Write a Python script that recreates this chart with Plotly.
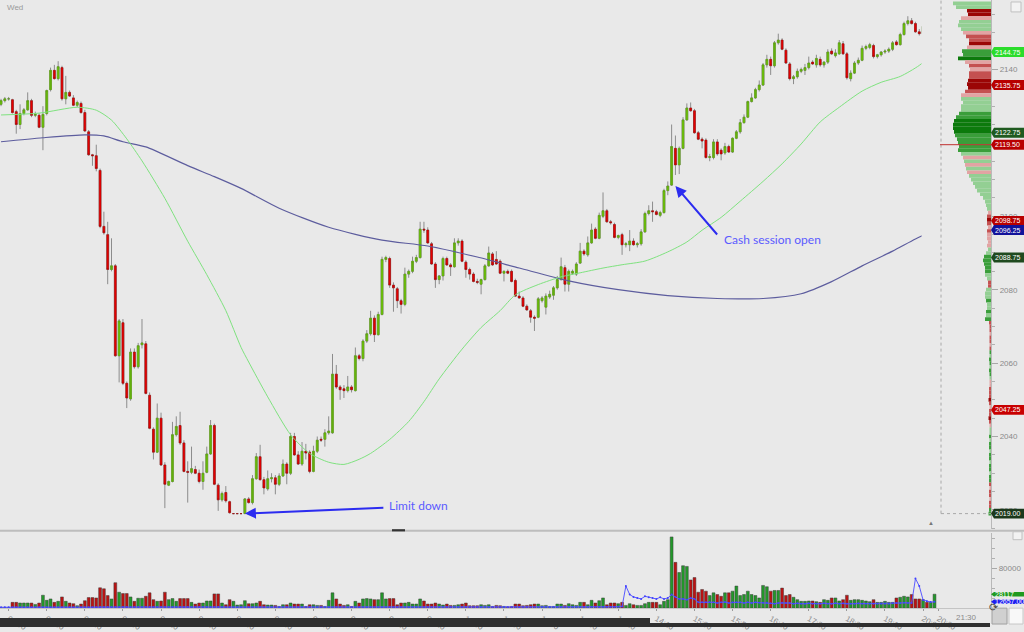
import pandas as pd
import plotly.graph_objects as go

# ---- data -------------------------------------------------------------
session_start = "2016-11-08 23:50"   # first 5-minute bar

opens = [
    2130.5, 2131.5, 2132, 2131.75, 2128.5, 2125, 2128, 2129, 2131.5, 2127.5,
    2127.5, 2124.25, 2128, 2134.5, 2139.75, 2137.5, 2140.5, 2132, 2133.75, 2132.25,
    2130.25, 2130.75, 2128.25, 2123, 2116.75, 2116.5, 2112.5, 2097.25, 2095, 2085.5,
    2086.5, 2062, 2071, 2054.5, 2050.25, 2063, 2059, 2065, 2065.25, 2051.25,
    2042, 2035.75, 2045, 2032.25, 2026.75, 2027.75, 2040.5, 2043, 2038.25, 2030.5,
    2030.25, 2031, 2030, 2027.75, 2030.25, 2035.25, 2043, 2026.75, 2022.75, 2024.75,
    2022.25, 2019, 2019, 2019, 2019, 2023, 2022, 2028.5, 2034.5, 2028.25,
    2025.75, 2028.5, 2028.75, 2027, 2029.25, 2032.5, 2030, 2040, 2035, 2032.5,
    2036, 2035.75, 2030.5, 2036, 2039.25, 2039.25, 2041, 2041, 2057, 2053.5,
    2053, 2052.5, 2053.5, 2052.5, 2062, 2061.25, 2066, 2068, 2072.25, 2067.75,
    2073.25, 2088.25, 2088.5, 2081.25, 2080.25, 2077, 2076, 2084.25, 2085, 2087.75,
    2088.75, 2096.5, 2096.25, 2092.5, 2087, 2082.75, 2083.75, 2088.5, 2086.75, 2086.25,
    2092.75, 2093.25, 2087.5, 2085.5, 2084.25, 2082.25, 2081.5, 2082.75, 2086.5, 2089.75,
    2088.25, 2087.75, 2084.5, 2085, 2085, 2082.5, 2078.25, 2077.75, 2075.5, 2074.25,
    2072.5, 2072.5, 2077, 2075.25, 2078, 2078.5, 2080.5, 2082.75, 2086, 2081.5,
    2084.5, 2084.25, 2087.25, 2090.5, 2089.5, 2092.75, 2096.5, 2094, 2100, 2101.5,
    2098.5, 2097.75, 2094.25, 2095, 2092.25, 2092.25, 2093.25, 2092.25, 2092.5, 2095.75,
    2100.75, 2101.5, 2101.25, 2100.25, 2101, 2107, 2108.5, 2118.5, 2114, 2118.5,
    2126.25, 2129.5, 2128.75, 2122.75, 2121, 2120.75, 2116, 2116, 2120.25, 2118,
    2117.25, 2119, 2117.5, 2121.25, 2123, 2125.5, 2127, 2131.25, 2132.25, 2134.5,
    2135.75, 2141.25, 2142.75, 2141, 2147.25, 2148, 2145.25, 2141.5, 2137.5, 2138,
    2139.5, 2139.75, 2140.5, 2142, 2141.25, 2142.75, 2141.25, 2142, 2145, 2143.75,
    2144.25, 2147, 2144.25, 2137.5, 2139, 2141.75, 2142.5, 2145.75, 2146, 2146.5,
    2143.5, 2144, 2144.75, 2145, 2145.5, 2147.5, 2146.75, 2149.5, 2152.5, 2153.25,
    2152.5, 2150.25, 2149.75, 2152, 2151.5, 2153,
]
highs = [
    2132, 2132.5, 2132.5, 2132, 2129, 2130.5, 2129.5, 2133.75, 2132, 2128.5,
    2128, 2130, 2134.5, 2140.5, 2141.25, 2142.25, 2141, 2138.25, 2134.25, 2133,
    2131.5, 2131.25, 2129, 2123.5, 2117, 2119.5, 2113, 2101.25, 2098.5, 2094,
    2087, 2072, 2072, 2055, 2064, 2064, 2065.5, 2072, 2066, 2052,
    2042.5, 2049, 2046.5, 2033, 2028, 2044, 2045.5, 2046.75, 2039, 2033.25,
    2037.25, 2032, 2031, 2033.25, 2037.25, 2044.5, 2043.5, 2027.25, 2025, 2026.5,
    2022.5, 2019, 2019, 2019, 2023.25, 2023.5, 2029.5, 2035.5, 2037.75, 2029,
    2030.75, 2030, 2029.5, 2030, 2033.75, 2033, 2041, 2041, 2036, 2038.5,
    2038, 2036.25, 2037.5, 2040, 2040, 2042, 2045.5, 2062.5, 2059.5, 2054,
    2054, 2056.5, 2054, 2064.25, 2062.5, 2066.5, 2069, 2074.25, 2073, 2074,
    2089, 2089.25, 2089, 2082, 2080.75, 2077.5, 2086, 2085.5, 2089, 2089.5,
    2098.5, 2098.5, 2097, 2093, 2087.5, 2084, 2089, 2089, 2087.25, 2094,
    2094, 2093.75, 2088, 2086, 2084.75, 2083, 2083, 2087, 2091.75, 2090.25,
    2090.5, 2088.25, 2085.25, 2085.5, 2085.5, 2083, 2079.5, 2078.25, 2076, 2074.75,
    2073, 2078, 2078.25, 2079, 2079.75, 2081, 2083.75, 2088.75, 2086.75, 2085.5,
    2085.5, 2087.5, 2092.75, 2091, 2094.5, 2098, 2097, 2101, 2106.5, 2102,
    2099, 2098.25, 2095, 2095.5, 2093, 2096.25, 2094, 2093, 2096.5, 2101.25,
    2103, 2104, 2101.75, 2101.5, 2107.5, 2109.5, 2125, 2122, 2119, 2127,
    2130.75, 2131, 2129.25, 2123.25, 2121.5, 2121.25, 2117, 2121, 2121, 2118.5,
    2120, 2119.5, 2121.5, 2123.5, 2126.5, 2127.75, 2131.5, 2133.5, 2135, 2137,
    2141.75, 2144, 2143.5, 2147.75, 2149.75, 2148.5, 2145.75, 2142, 2138.5, 2140.25,
    2140.5, 2141.5, 2143.5, 2142.5, 2144, 2143.5, 2142.25, 2145.5, 2145.75, 2145.5,
    2148, 2147.75, 2144.75, 2139.75, 2142.25, 2143.25, 2146.5, 2146.75, 2147.25, 2147,
    2144.25, 2145, 2145.5, 2146, 2147.75, 2148, 2150, 2153, 2154.5, 2154,
    2153, 2151, 2152.25, 2152.5, 2153.5, 2156,
]
lows = [
    2130, 2131, 2131.5, 2128, 2122.5, 2123.75, 2127.5, 2128.75, 2127, 2127,
    2124, 2118, 2127.5, 2134, 2137.25, 2137, 2131.5, 2130.5, 2132.5, 2130,
    2129.75, 2128, 2123, 2116.5, 2113.75, 2112.25, 2096.75, 2095, 2081.5, 2085,
    2061.75, 2054.75, 2054, 2047.75, 2049.75, 2058.5, 2058.5, 2064, 2051.5, 2042,
    2033.75, 2035.5, 2032, 2020.5, 2026.5, 2027.5, 2040, 2037.75, 2030.25, 2022,
    2029.75, 2029.75, 2027.25, 2025.5, 2030, 2035, 2026.75, 2019.75, 2022.25, 2022,
    2019, 2019, 2019, 2019, 2019, 2021.75, 2021.5, 2028.25, 2028, 2024.25,
    2025.25, 2027.5, 2024.25, 2026.5, 2029, 2027, 2029.5, 2034.75, 2032.25, 2032,
    2033.75, 2030, 2030.25, 2035.5, 2038.5, 2037.25, 2040.5, 2040.75, 2053, 2050,
    2050.5, 2052, 2052, 2052.25, 2060.75, 2060.5, 2065.5, 2067.5, 2065.75, 2067.5,
    2073, 2087.5, 2080.5, 2074, 2075, 2073.5, 2075.5, 2083.25, 2084.5, 2087.25,
    2088.5, 2095.5, 2092.5, 2086.75, 2080.5, 2081.5, 2082.5, 2086.5, 2083.75, 2086,
    2092, 2087.5, 2083.25, 2082.75, 2082, 2081.5, 2078.75, 2082.5, 2086.25, 2086.5,
    2086.75, 2084.25, 2082.25, 2084.25, 2082, 2078, 2077.5, 2075.25, 2074.25, 2071,
    2068.75, 2072.25, 2076.5, 2073.25, 2077.5, 2077.25, 2080, 2082.5, 2079.5, 2079.5,
    2084, 2083.75, 2087, 2089.25, 2089, 2092.5, 2093.75, 2093.75, 2099.5, 2098.25,
    2097.75, 2094, 2093.75, 2089.5, 2091.5, 2090.5, 2092, 2091.5, 2092, 2095.5,
    2100.25, 2098.5, 2100.25, 2099.75, 2100.75, 2105.75, 2108.25, 2111.25, 2111.5, 2118.25,
    2126, 2128.5, 2122.5, 2120.75, 2118.5, 2115.75, 2115, 2115.5, 2116.5, 2115.25,
    2116.75, 2117.25, 2117.25, 2121, 2122.5, 2125.25, 2126.75, 2131, 2132, 2134,
    2135.5, 2140.5, 2138.5, 2140.5, 2146.75, 2145.25, 2141.5, 2137, 2136, 2137.5,
    2139, 2138.5, 2140, 2141.25, 2140.5, 2140.75, 2140.5, 2141.5, 2144, 2143.25,
    2144, 2144, 2137.25, 2136.75, 2138.75, 2141.25, 2142.25, 2145.25, 2145.5, 2143,
    2143, 2143.5, 2144.25, 2144.5, 2145, 2146.5, 2146.5, 2149.25, 2152, 2152.25,
    2150, 2149.25, 2149.5, 2151.25, 2151.25, 2152.75,
]
closes = [
    2131.5, 2132, 2132, 2128.25, 2125, 2128, 2129, 2131.5, 2127.5, 2127.75,
    2124.25, 2127.75, 2134.25, 2139.75, 2137.5, 2140.75, 2132, 2133.75, 2132.75, 2130.25,
    2131, 2128.25, 2123.25, 2116.75, 2116.5, 2113, 2097.25, 2095.5, 2085.5, 2086.5,
    2062, 2071.5, 2054.5, 2050.5, 2063, 2059, 2064.75, 2065.5, 2051.75, 2042.25,
    2035.75, 2045, 2032.25, 2027, 2027.75, 2040.5, 2042.75, 2038.25, 2030.5, 2030.25,
    2031.25, 2030, 2027.75, 2030, 2035.25, 2043, 2027, 2022.75, 2024.5, 2022.5,
    2019.25, 2019, 2019, 2019, 2023, 2022, 2028.5, 2034.5, 2028.25, 2026,
    2028.5, 2028.75, 2027, 2029.25, 2032.5, 2030, 2040, 2035, 2032.5, 2036,
    2035.5, 2030.5, 2036, 2039, 2039, 2041, 2041.5, 2057, 2053.5, 2052.75,
    2052.5, 2053.5, 2052.75, 2062, 2061.25, 2066, 2068, 2072.25, 2067.75, 2073.25,
    2088.25, 2088.75, 2081.25, 2080.5, 2077, 2076, 2084.25, 2085, 2087.75, 2088.75,
    2096.5, 2096.25, 2092.75, 2087, 2082.75, 2083.75, 2088.5, 2086.75, 2086.25, 2092.75,
    2093.25, 2087.75, 2085.5, 2084.25, 2082.25, 2082, 2082.75, 2086.5, 2090, 2086.75,
    2087, 2084.5, 2085, 2084.5, 2082.25, 2078.25, 2077.75, 2075.5, 2074.5, 2072.5,
    2072.25, 2077.5, 2077.75, 2078.25, 2078.75, 2080.5, 2082.75, 2086.25, 2081.5, 2085,
    2085, 2087, 2090.5, 2089.75, 2092.75, 2096.25, 2094, 2100.25, 2101.5, 2098.5,
    2098.25, 2094.25, 2094.75, 2092.25, 2092.5, 2093.25, 2092.25, 2092.5, 2095.75, 2100.75,
    2101.5, 2101.25, 2100.5, 2101, 2107, 2108.25, 2119, 2114, 2118.5, 2126.25,
    2129.5, 2128.75, 2122.75, 2121, 2120.5, 2116, 2116.25, 2120.25, 2117, 2117,
    2119, 2117.5, 2121.25, 2123, 2125.5, 2127, 2131.25, 2132.25, 2134.5, 2135.75,
    2141.25, 2142.75, 2141, 2147.25, 2148, 2145.5, 2141.75, 2137.5, 2138, 2139.5,
    2140, 2140.5, 2141.75, 2141.5, 2143, 2141.25, 2142, 2144.75, 2144.25, 2144.5,
    2147.25, 2144.25, 2137.75, 2139, 2141.75, 2142.5, 2145.75, 2146.25, 2146.75, 2143.5,
    2144, 2144.75, 2145, 2145.5, 2147.25, 2146.75, 2149.5, 2152.5, 2153.25, 2152.5,
    2150.25, 2149.75, 2151.75, 2151.5, 2153, 2155.5,
]
# volume per bar, thousands of contracts
volume_k = [
    1.5, 1.5, 1.5, 11.6, 11.6, 10.3, 10.3, 10.3, 10.3, 7.5,
    10.3, 26, 15.7, 18.5, 11.6, 13.7, 22.6, 13.7, 10.3, 8.9,
    4.8, 8.2, 15, 21.2, 21.2, 20.5, 41, 39, 25.3, 18.5,
    51.3, 32.1, 29.4, 29.4, 22.6, 13.7, 19.9, 19.9, 23.9, 30.8,
    17.1, 13.7, 14.4, 32.1, 17.1, 19.2, 13.7, 19.2, 19.2, 19.2,
    11.6, 8.2, 10.3, 10.3, 14.4, 14.4, 28.7, 28.7, 10.3, 6.8,
    17.1, 13.7, 6.2, 6.8, 15, 8.9, 8.9, 10.3, 13.7, 6.8,
    6.2, 6.2, 5.5, 3.4, 6.8, 6.8, 10.3, 8.2, 8.2, 8.2,
    3.4, 6.8, 6.8, 5.5, 5.5, 3.4, 15.7, 30.8, 18.5, 8.2,
    5.5, 6.8, 3.4, 13.7, 10.3, 18.5, 19.2, 18.5, 17.1, 17.1,
    30.8, 18.5, 19.2, 19.2, 6.8, 10.3, 10.3, 11.6, 8.2, 8.2,
    18.5, 14.4, 8.2, 8.2, 10.3, 8.2, 6.2, 8.2, 5.5, 5.5,
    6.8, 8.2, 10.3, 4.8, 4.8, 4.8, 6.8, 5.5, 6.8, 3.4,
    5.5, 4.8, 3.4, 2.7, 3.4, 8.2, 8.2, 4.8, 5.5, 6.8,
    8.2, 8.2, 4.8, 5.5, 3.4, 3.4, 8.2, 8.2, 5.5, 8.9,
    6.8, 5.5, 11.6, 11.6, 6.8, 15.7, 10.3, 15, 20.5, 6.8,
    10.3, 10.3, 8.9, 11.6, 5.5, 8.9, 6.8, 5.5, 5.5, 8.9,
    11.6, 11.6, 11.6, 6.8, 13.7, 17, 143.6, 92.3, 71.8, 85.5,
    84.1, 56.8, 61.6, 32.1, 37.6, 34.2, 25.3, 30.8, 27.4, 23.9,
    30.8, 30.8, 34.2, 44.5, 25.3, 27.4, 34.2, 27.4, 25.3, 20.5,
    45.8, 43.1, 34.2, 35.6, 35.6, 40.4, 25.3, 27.4, 21.9, 17.1,
    13.7, 13.7, 14.4, 14.4, 13, 11.6, 17.1, 15.7, 20.5, 20.5,
    14.4, 17.1, 26, 15.7, 17.1, 17.1, 15.7, 14.4, 13, 17.1,
    11.6, 11.6, 13.7, 11.6, 11.6, 20.5, 21.9, 23.9, 22.6, 27.4,
    18.5, 18.5, 17.1, 11.6, 11.6, 28.117,
]
# blue dotted study in the volume pane, thousands
vol_study_k = [
    1.7, 1.7, 1.7, 1.8, 1.8, 1.8, 1.7, 1.7, 1.8, 1.8,
    1.9, 1.9, 1.8, 1.8, 1.9, 1.9, 1.9, 1.8, 1.8, 1.8,
    1.7, 1.8, 1.8, 1.9, 1.9, 2.0, 2.2, 2.3, 2.3, 2.3,
    2.5, 2.5, 2.5, 2.4, 2.4, 2.3, 2.3, 2.3, 2.3, 2.4,
    2.3, 2.3, 2.3, 2.4, 2.3, 2.3, 2.3, 2.3, 2.3, 2.3,
    2.2, 2.2, 2.1, 2.1, 2.1, 2.1, 2.2, 2.2, 2.1, 2.0,
    2.0, 2.0, 1.9, 1.9, 1.9, 1.9, 1.8, 1.8, 1.8, 1.8,
    1.8, 1.7, 1.7, 1.7, 1.7, 1.7, 1.7, 1.7, 1.7, 1.7,
    1.6, 1.6, 1.6, 1.6, 1.6, 1.6, 1.7, 1.8, 1.8, 1.8,
    1.7, 1.7, 1.7, 1.7, 1.7, 1.7, 1.7, 1.7, 1.7, 1.7,
    1.8, 1.8, 1.8, 1.8, 1.7, 1.7, 1.7, 1.7, 1.7, 1.7,
    1.7, 1.7, 1.7, 1.7, 1.7, 1.7, 1.6, 1.6, 1.6, 1.6,
    1.6, 1.6, 1.6, 1.6, 1.6, 1.6, 1.6, 1.6, 1.6, 1.6,
    1.6, 1.6, 1.6, 1.6, 1.6, 1.7, 1.7, 1.7, 1.7, 1.7,
    1.7, 1.7, 1.7, 1.7, 1.7, 1.7, 1.8, 1.8, 1.8, 1.9,
    1.9, 1.9, 2.0, 2.0, 2.0, 2.1, 2.1, 2.2, 2.3, 2.3,
    2.3, 2.4, 2.7, 3.4, 44.5, 27.4, 22.6, 20.5, 18.5, 23.9,
    21.9, 20.5, 18.5, 21.9, 18.5, 20.5, 27.4, 22.6, 18.5, 18.5,
    17.1, 20.5, 18.5, 11.6, 11.6, 11.6, 12.3, 11.6, 10.3, 11.6,
    12.3, 10.3, 11.6, 11.6, 11.6, 10.3, 11.6, 10.3, 11.6, 11.0,
    11.0, 11.0, 9.6, 8.9, 10.3, 11.0, 10.3, 10.3, 8.9, 9.6,
    8.9, 8.9, 9.6, 8.9, 8.9, 8.9, 9.6, 8.9, 8.9, 9.6,
    8.9, 9.6, 8.9, 8.9, 8.9, 9.6, 8.9, 8.9, 8.9, 8.9,
    8.9, 8.9, 8.9, 8.9, 9.6, 10.3, 10.3, 11.0, 10.3, 10.3,
    59.5, 44.5, 16.4, 13.7, 12.3, 12.657,
]

# moving averages read at sample bars
ma_fast_bar = [0, 10, 20, 25, 29, 33, 37, 43, 49, 54, 59, 63, 65, 70, 76, 81, 86, 90,
               94, 97, 102, 107, 111, 115, 121, 126, 131, 135, 141, 147, 152, 158, 163,
               169, 175, 180, 184, 189, 194, 200, 205, 210, 215, 220, 226, 231, 236, 241, 245]
ma_fast_val = [2127.6, 2128.1, 2129.7, 2128.9, 2126.2, 2121.1, 2115.1, 2104.9, 2093.2,
               2084.1, 2074.3, 2064.3, 2060.3, 2050.8, 2040.5, 2035.4, 2033, 2032.4,
               2033.8, 2035.4, 2039.2, 2044.1, 2049.5, 2055.7, 2063.8, 2069.7, 2074.3,
               2078.6, 2081.4, 2083.5, 2084.6, 2085.9, 2086.8, 2087.8, 2090.3, 2093,
               2096.2, 2099.7, 2104.1, 2109.5, 2114.3, 2119.7, 2125.7, 2129.7, 2134.1,
               2136.5, 2138.1, 2141.1, 2144.75]
ma_slow_bar = [0, 11, 22, 27, 32, 38, 49, 56, 63, 73, 86, 100, 112, 125, 136, 149, 162,
               175, 188, 200, 210, 218, 226, 234, 240, 245]
ma_slow_val = [2120.3, 2121.4, 2122.2, 2121.9, 2120.3, 2118.9, 2113.8, 2110.8, 2107.6,
               2102.2, 2097, 2093.5, 2091.9, 2088.9, 2085.9, 2082.4, 2080, 2078.4,
               2077.6, 2077.6, 2078.9, 2082.2, 2086.5, 2090.5, 2093.8, 2096.25]

time_labels = ["00:00", "00:50", "01:40", "02:30", "03:20", "04:10", "05:00", "05:50",
               "06:40", "07:30", "08:20", "09:10", "10:00", "10:50", "11:40", "12:30",
               "13:20", "14:10", "15:00", "15:50", "16:40", "17:30", "18:20", "19:10",
               "20:00", "20:20"]
price_ticks = [2020, 2040, 2060, 2080, 2100, 2120, 2140]

# right-hand price tags
tag_prices = [2144.75, 2135.75, 2122.75, 2119.50, 2098.75, 2096.25, 2088.75, 2047.25, 2019.00]
tag_colors = ["#2bdc2b", "#b80000", "#1f5a1f", "#b80000", "#b80000", "#12129a",
              "#1f4a1f", "#c80000", "#1c381c"]
vol_tag_values = [28117, 12657.00]
vol_tag_text = ["28117", "12657.00"]
vol_tag_colors = ["#1f9a1f", "#1e1ef0"]

# volume profile: one row per point, 2158 down to 2019
profile_top = 2158
profile_size = [
    38, 35, 24, 23, 30, 32, 33, 30, 28, 25,
    22, 22, 24, 29, 28, 33, 26, 22, 21, 22,
    22, 23, 24, 23, 26, 30, 30, 28, 30, 30,
    32, 35, 37, 38, 38, 37, 36, 34, 33, 32,
    33, 30, 28, 27, 26, 25, 24, 22, 20, 18,
    16, 14, 11, 8, 6, 5, 4, 3, 4, 4,
    4, 3, 4, 4, 4, 3, 4, 3, 5, 7,
    8, 7, 6, 6, 6, 4, 3, 3, 5, 6,
    6, 5, 4, 4, 5, 5, 6, 2,
    1.5, 1.5, 1.5, 1.5, 1.5, 1.5, 1.5,
    1.5, 1.5, 2, 1.5, 1.5, 2, 1.5, 1.5,
    1.5, 1.5, 2,
    2, 2, 2.5, 2, 1.5, 2, 2, 2.5, 2,
    1.5, 1.5, 1.5,
    2, 1.5, 2, 2, 1.5, 2, 2, 1.5, 2, 2, 1.5, 2, 2,
    2, 1.5, 2, 2, 1.5, 2, 2,
    2, 2.5,
]
# G strong buy, g buy, l light buy, p light sell, r sell, R strong sell
profile_side = ("llRRplllpr" "rRpggGprpr" "rRRRrpllll" "ggGGGGgggg" "glplplplll"
                "lllllllprR" "rprppppllg" "ggggllrrll" "lgllglgr"
                "rrprrpr" "glgglggl" "ppr" "rrRrprrRr" "pll" "glgglgglgglgg"
                "rprrprr" "gg")

# ---- figure ------------------------------------------------------------
BG = "#e9e9e9"
side_colors = {"G": "#0c7a0c", "g": "#3a9e3a", "l": "#93cf93",
               "p": "#e2a3a3", "r": "#c45050", "R": "#9b0606"}

bar_times = pd.date_range(session_start, periods=len(closes), freq="5min")
day = bar_times[-1].strftime("%Y-%m-%d")
tick_vals = [f"{day} {t}" for t in time_labels]

n = len(closes)
vol_colors = ["#22992a" if closes[i] >= opens[i] else "#bd1212" for i in range(n)]
levels = [profile_top - k for k in range(len(profile_size))]
prof_colors = [side_colors[s] for s in profile_side]

W, H = 1024, 632          # reference canvas; layout below is in fractions of it
X_DOM = [0, 0.9678]
X_RANGE = ["2016-11-08 23:48:40", "2016-11-09 21:29:10"]

fig = go.Figure()

fig.add_trace(go.Bar(
    y=levels, x=profile_size, orientation="h", width=1,
    marker=dict(color=prof_colors, line=dict(width=0)),
    xaxis="x3", yaxis="y", hoverinfo="skip", showlegend=False))

# wicks (grey) underneath, bodies on top
fig.add_trace(go.Candlestick(
    x=bar_times, open=opens, high=highs, low=lows, close=closes,
    increasing=dict(fillcolor="#8c8c8c", line=dict(color="#8c8c8c", width=1)),
    decreasing=dict(fillcolor="#8c8c8c", line=dict(color="#8c8c8c", width=1)),
    whiskerwidth=0, xaxis="x", yaxis="y", showlegend=False, hoverinfo="skip"))
fig.add_trace(go.Candlestick(
    x=bar_times, open=opens, high=opens, low=closes, close=closes,
    increasing=dict(fillcolor="#80e400", line=dict(color="#5a9e12", width=0.5)),
    decreasing=dict(fillcolor="#ea0000", line=dict(color="#a30000", width=0.5)),
    whiskerwidth=0, xaxis="x", yaxis="y", showlegend=False))

fig.add_trace(go.Scatter(
    x=bar_times[ma_slow_bar], y=ma_slow_val, mode="lines",
    line=dict(color="#5d5d9e", width=1.2, shape="spline", smoothing=0.7),
    xaxis="x", yaxis="y", showlegend=False, hoverinfo="skip"))
fig.add_trace(go.Scatter(
    x=bar_times[ma_fast_bar], y=ma_fast_val, mode="lines",
    line=dict(color="#7fe27f", width=1, shape="spline", smoothing=0.7),
    xaxis="x", yaxis="y", showlegend=False, hoverinfo="skip"))

fig.add_trace(go.Bar(
    x=bar_times, y=[v * 1000 for v in volume_k],
    marker=dict(color=vol_colors, line=dict(color="#3c3c3c", width=0.5)),
    xaxis="x2", yaxis="y2", showlegend=False, hoverinfo="skip"))
fig.add_trace(go.Scatter(
    x=bar_times, y=[v * 1000 for v in vol_study_k], mode="lines+markers",
    line=dict(color="#5a5aff", width=1), marker=dict(size=2, color="#4040ff"),
    xaxis="x2", yaxis="y2", showlegend=False, hoverinfo="skip"))

tick_font = dict(family="Liberation Sans", size=8, color="#8a8a8a")

fig.update_layout(
    width=W, autosize=True,
    margin=dict(l=0, r=0, t=0, b=0),
    paper_bgcolor=BG, plot_bgcolor=BG,
    bargap=0.25, showlegend=False,
    xaxis=dict(domain=X_DOM, range=X_RANGE, type="date", anchor="y",
               showticklabels=False, showgrid=False, zeroline=False,
               rangeslider=dict(visible=False), ticks=""),
    xaxis2=dict(domain=X_DOM, range=X_RANGE, type="date", anchor="y2", matches="x",
                tickvals=tick_vals, ticktext=time_labels, tickfont=tick_font,
                ticks="outside", ticklen=2, tickcolor="#9a9a9a",
                showgrid=False, zeroline=False, showline=True, linecolor="#c4c4c4"),
    xaxis3=dict(domain=[0.90, X_DOM[1]], range=[69.4, 0], anchor="y", visible=False),
    yaxis=dict(domain=[0.1566, 1], range=[2014.86, 2158.92], anchor="x", side="right",
               tickvals=price_ticks, tickfont=tick_font, ticks="outside", ticklen=6,
               tickcolor="#a8a8a8", showgrid=False, zeroline=False,
               showline=True, linecolor="#b8b8b8",
               minor=dict(dtick=5, ticks="outside", ticklen=3, tickcolor="#b0b0b0")),
    yaxis2=dict(domain=[0.0301, 0.1503], range=[0, 152000], anchor="x2", side="right",
                tickvals=[80000], ticktext=["80000"], tickfont=tick_font,
                ticks="outside", ticklen=5, tickcolor="#a8a8a8",
                showgrid=False, zeroline=False, showline=True, linecolor="#b8b8b8",
                minor=dict(dtick=20000, ticks="outside", ticklen=3, tickcolor="#b0b0b0")),
)

shapes = []
ann = []

# pane separator and its handle
shapes.append(dict(type="line", xref="paper", yref="paper", x0=0, x1=1,
                   y0=0.1535, y1=0.1535, line=dict(color="#bdbdbd", width=2)))
shapes.append(dict(type="rect", xref="paper", yref="paper", x0=392 / W, x1=405 / W,
                   y0=0.1525, y1=0.1560, fillcolor="#333333", line=dict(width=0)))
# dark window strip along the bottom edge (covers the early time labels)
shapes.append(dict(type="rect", xref="paper", yref="paper", x0=0, x1=650 / W,
                   y0=0, y1=9 / H, fillcolor="#2f2f2f", line=dict(width=0), layer="above"))
shapes.append(dict(type="rect", xref="paper", yref="paper", x0=650 / W, x1=990 / W,
                   y0=0, y1=4 / H, fillcolor="#2f2f2f", line=dict(width=0), layer="above"))
# dotted session box
shapes.append(dict(type="line", xref="paper", yref="y", x0=941 / W, x1=941 / W,
                   y0=lows[61], y1=2158.92, line=dict(color="#a8a8a8", width=1, dash="dot")))
shapes.append(dict(type="line", xref="paper", yref="y", x0=941 / W, x1=X_DOM[1],
                   y0=lows[61], y1=lows[61], line=dict(color="#a8a8a8", width=1, dash="dot")))
# prior close line
shapes.append(dict(type="line", xref="paper", yref="y", x0=940 / W, x1=X_DOM[1],
                   y0=tag_prices[3], y1=tag_prices[3], line=dict(color="#c03030", width=1)))

# price tags
half = 1.35
x_tip, x_body = X_DOM[1], 994 / W
tag_font = dict(family="Liberation Sans", size=7, color="#ffffff")
for p, c in zip(tag_prices, tag_colors):
    shapes.append(dict(
        type="path", xref="paper", yref="y", fillcolor=c, line=dict(width=0),
        path=f"M {x_tip},{p} L {x_body},{p + half} L 1,{p + half} L 1,{p - half} "
             f"L {x_body},{p - half} Z"))
    ann.append(dict(xref="paper", yref="y", x=x_body, y=p, text=f"{p:.2f}",
                    showarrow=False, xanchor="left", yanchor="middle",
                    borderpad=0, font=tag_font))
vhalf = 4500
for v, t, c in zip(vol_tag_values, vol_tag_text, vol_tag_colors):
    shapes.append(dict(
        type="path", xref="paper", yref="y2", fillcolor=c, line=dict(width=0),
        path=f"M {x_tip},{v} L {x_body},{v + vhalf} L 1,{v + vhalf} L 1,{v - vhalf} "
             f"L {x_body},{v - vhalf} Z"))
    ann.append(dict(xref="paper", yref="y2", x=x_body, y=v, text=t,
                    showarrow=False, xanchor="left", yanchor="middle",
                    borderpad=0, font=tag_font))

# bottom-right controls
shapes.append(dict(type="rect", xref="paper", yref="paper", x0=992 / W, x1=1007 / W,
                   y0=3 / H, y1=19 / H, fillcolor="#d0d0d0",
                   line=dict(color="#a0a0a0", width=1)))
shapes.append(dict(type="rect", xref="paper", yref="paper", x0=1009 / W, x1=1023 / W,
                   y0=3 / H, y1=19 / H, fillcolor="#f8f8f8",
                   line=dict(color="#c8c8c8", width=1)))
ann.append(dict(xref="paper", yref="paper", x=999.5 / W, y=11 / H, text="⟳",
                showarrow=False, font=dict(size=11, color="#444444")))
shapes.append(dict(type="rect", xref="paper", yref="paper", x0=1011 / W, x1=1021 / W,
                   y0=620 / H, y1=630 / H, fillcolor="#f2f2f2",
                   line=dict(color="#c0c0c0", width=1)))
shapes.append(dict(type="rect", xref="paper", yref="paper", x0=1013 / W, x1=1022 / W,
                   y0=88 / H, y1=96 / H, fillcolor="#f2f2f2",
                   line=dict(color="#c0c0c0", width=1)))
ann.append(dict(xref="paper", yref="paper", x=936 / W, y=99 / H, text="▲",
                showarrow=False, font=dict(size=6, color="#777777")))
ann.append(dict(xref="paper", yref="paper", x=979 / W, y=(H - 622) / H,
                yanchor="middle", text="21:30", showarrow=False, font=tick_font))

# top-left day label
ann.append(dict(xref="paper", yref="paper", x=5 / W, y=1, yshift=-1,
                xanchor="left", yanchor="top", text="Wed", showarrow=False,
                font=dict(family="Liberation Sans", size=8, color="#9a9a9a")))

# callouts
arrow_blue = "#2c2cf0"
text_blue = "#5b5bff"
ann.append(dict(x=bar_times[64], y=lows[64], xref="x", yref="y", text="",
                showarrow=True, arrowhead=2, arrowsize=1.1, arrowwidth=2,
                arrowcolor=arrow_blue, ax=140, ay=-6))
ann.append(dict(xref="paper", yref="paper", x=387 / W, y=(H - 510) / H,
                xanchor="left", yanchor="middle", text="Limit down", showarrow=False,
                font=dict(family="Lato", size=12, color=text_blue)))
ann.append(dict(x=bar_times[177], y=lows[176], xref="x", yref="y", text="",
                showarrow=True, arrowhead=2, arrowsize=1.1, arrowwidth=2,
                arrowcolor=arrow_blue, ax=43, ay=50))
ann.append(dict(xref="paper", yref="paper", x=722 / W, y=(H - 241) / H,
                xanchor="left", yanchor="middle", text="Cash session open",
                showarrow=False, font=dict(family="Lato", size=12, color=text_blue)))

fig.update_layout(shapes=shapes, annotations=ann)

# fill the browser viewport exactly, with no page margin or scrollbars
fig.write_html("out.html", config={"displayModeBar": False},
               default_width=f"{W}px", default_height="100vh",
               post_script="document.documentElement.style.overflow='hidden';"
                           "document.body.style.margin='0';"
                           "document.body.style.overflow='hidden';"
                           "document.body.style.background='" + BG + "';")
